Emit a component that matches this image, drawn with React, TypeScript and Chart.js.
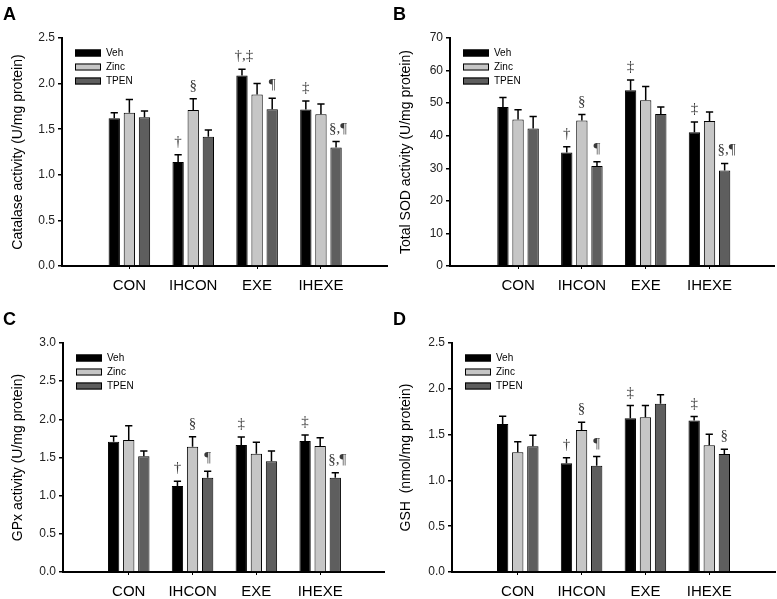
import React, { useEffect, useRef } from 'react';
import { Chart, registerables } from 'chart.js';

Chart.register(...registerables);

const categories = ['CON', 'IHCON', 'EXE', 'IHEXE'];
const seriesNames = ['Veh', 'Zinc', 'TPEN'];
const seriesColors = ['#000000', '#c6c6c6', '#5e5e5e'];

// Panel A: Catalase activity (rows: Veh, Zinc, TPEN)
const catalaseMeans = [
  [1.62, 1.14, 2.09, 1.715],
  [1.68, 1.71, 1.88, 1.664],
  [1.63, 1.416, 1.72, 1.30],
];
const catalaseSems = [
  [0.06, 0.08, 0.067, 0.095],
  [0.145, 0.125, 0.12, 0.113],
  [0.07, 0.074, 0.12, 0.065],
];
const catalaseMarks = [
  ['', '†', '†,‡', '‡'],
  ['', '§', '', ''],
  ['', '', '¶', '§,¶'],
];

// Panel B: Total SOD activity
const sodMeans = [
  [48.85, 34.85, 53.95, 41.1],
  [45.0, 44.7, 50.9, 44.55],
  [42.2, 30.7, 46.7, 29.3],
];
const sodSems = [
  [2.85, 1.75, 3.15, 3.1],
  [3.0, 1.8, 4.2, 2.75],
  [3.7, 1.3, 2.15, 2.2],
];
const sodMarks = [
  ['', '†', '‡', '‡'],
  ['', '§', '', ''],
  ['', '¶', '', '§,¶'],
];

// Panel C: GPx activity
const gpxMeans = [
  [1.707, 1.127, 1.664, 1.716],
  [1.729, 1.642, 1.55, 1.651],
  [1.515, 1.236, 1.45, 1.236],
];
const gpxSems = [
  [0.07, 0.061, 0.105, 0.079],
  [0.188, 0.131, 0.149, 0.109],
  [0.07, 0.083, 0.135, 0.065],
];
const gpxMarks = [
  ['', '†', '‡', '‡'],
  ['', '§', '', ''],
  ['', '¶', '', '§,¶'],
];

// Panel D: GSH
const gshMeans = [
  [1.617, 1.186, 1.679, 1.653],
  [1.307, 1.55, 1.69, 1.383],
  [1.372, 1.16, 1.836, 1.288],
];
const gshSems = [
  [0.083, 0.062, 0.138, 0.044],
  [0.116, 0.085, 0.127, 0.121],
  [0.121, 0.10, 0.098, 0.051],
];
const gshMarks = [
  ['', '†', '‡', '‡'],
  ['', '§', '', ''],
  ['', '¶', '', '§'],
];

const SANS = 'Arial, "Liberation Sans", Helvetica, sans-serif';
const SERIF = '"Liberation Serif", "Times New Roman", serif';

type PanelSpec = {
  letter: string;
  title: string;
  yMax: number;
  yStep: number;
  decimals: number;
  means: number[][];
  sems: number[][];
  marks: string[][];
  left: number;
  top: number;
  width: number;
  height: number;
  xMin: number;
  xMax: number;
  area: { left: number; top: number; right: number; bottom: number };
  letterPos: { x: number; y: number };
};

const panels: PanelSpec[] = [
  {
    letter: 'A', title: 'Catalase activity (U/mg protein)', yMax: 2.5, yStep: 0.5, decimals: 1,
    means: catalaseMeans, sems: catalaseSems, marks: catalaseMarks,
    left: 0, top: 0, width: 388, height: 300, xMin: -0.055, xMax: 5.05,
    area: { left: 62, top: 38, right: 388, bottom: 266 }, letterPos: { x: 3, y: 20 },
  },
  {
    letter: 'B', title: 'Total SOD activity (U/mg protein)', yMax: 70, yStep: 10, decimals: 0,
    means: sodMeans, sems: sodSems, marks: sodMarks,
    left: 388, top: 0, width: 389, height: 300, xMin: -0.066, xMax: 5.01,
    area: { left: 62, top: 38, right: 386, bottom: 266 }, letterPos: { x: 5, y: 20 },
  },
  {
    letter: 'C', title: 'GPx activity (U/mg protein)', yMax: 3.0, yStep: 0.5, decimals: 1,
    means: gpxMeans, sems: gpxSems, marks: gpxMarks,
    left: 0, top: 300, width: 388, height: 299, xMin: -0.03, xMax: 5.0,
    area: { left: 63, top: 43, right: 384, bottom: 272 }, letterPos: { x: 3, y: 25 },
  },
  {
    letter: 'D', title: 'GSH  (nmol/mg protein)', yMax: 2.5, yStep: 0.5, decimals: 1,
    means: gshMeans, sems: gshSems, marks: gshMarks,
    left: 388, top: 300, width: 389, height: 299, xMin: -0.03, xMax: 5.03,
    area: { left: 64, top: 43, right: 387, bottom: 272 }, letterPos: { x: 5, y: 25 },
  },
];

function Panel({ spec }: { spec: PanelSpec }) {
  const ref = useRef<HTMLCanvasElement | null>(null);

  useEffect(() => {
    const canvas = ref.current;
    if (!canvas) return;
    const { area } = spec;
    const xHeight = 32;

    const overlay = {
      id: 'overlay' + spec.letter,
      afterDatasetsDraw(chart: any) {
        const ctx = chart.ctx as CanvasRenderingContext2D;
        const yScale = chart.scales.y;
        const ca = chart.chartArea;
        ctx.save();
        // error bars + significance marks
        chart.data.datasets.forEach((_ds: any, i: number) => {
          const meta = chart.getDatasetMeta(i);
          meta.data.forEach((el: any, j: number) => {
            const mean = spec.means[i][j];
            const sem = spec.sems[i][j];
            const yBar = yScale.getPixelForValue(mean);
            const yTop = yScale.getPixelForValue(mean + sem);
            const cap = el.width * 0.32;
            ctx.strokeStyle = '#000';
            ctx.lineWidth = 1.5;
            ctx.beginPath();
            ctx.moveTo(el.x, yBar);
            ctx.lineTo(el.x, yTop);
            ctx.moveTo(el.x - cap, yTop);
            ctx.lineTo(el.x + cap, yTop);
            ctx.stroke();
            const mark = spec.marks[i][j];
            if (mark) {
              ctx.font = '15px ' + SERIF;
              ctx.fillStyle = '#3a3a3a';
              ctx.textAlign = 'center';
              ctx.textBaseline = 'alphabetic';
              ctx.fillText(mark, el.x + (mark.length > 1 ? 2 : 0), yTop - 9);
            }
          });
        });
        // legend
        const bx = ca.left + 13;
        seriesNames.forEach((name, i) => {
          const cy = ca.top + 15 + i * 14;
          ctx.fillStyle = seriesColors[i];
          ctx.fillRect(bx, cy - 3.5, 26, 7);
          ctx.strokeStyle = '#000';
          ctx.lineWidth = 1;
          ctx.strokeRect(bx + 0.5, cy - 3.5 + 0.5, 25, 6);
          ctx.fillStyle = '#000';
          ctx.font = '10px ' + SANS;
          ctx.textAlign = 'left';
          ctx.textBaseline = 'middle';
          ctx.fillText(name, bx + 31, cy);
        });
        // panel letter
        ctx.fillStyle = '#000';
        ctx.font = 'bold 18px ' + SANS;
        ctx.textAlign = 'left';
        ctx.textBaseline = 'alphabetic';
        ctx.fillText(spec.letter, spec.letterPos.x, spec.letterPos.y);
        ctx.restore();
      },
    };

    const chart = new Chart(canvas, {
      type: 'bar',
      data: {
        datasets: seriesNames.map((name, i) => ({
          label: name,
          data: spec.means[i].map((v, j) => ({ x: j + 1, y: v })),
          backgroundColor: seriesColors[i],
          borderColor: '#000',
          borderWidth: 1,
          borderSkipped: 'bottom',
          categoryPercentage: 0.71,
          barPercentage: 0.75,
        })),
      },
      options: {
        responsive: false,
        animation: false,
        events: [],
        layout: {
          padding: {
            left: 0,
            top: area.top,
            right: spec.width - area.right,
            bottom: spec.height - area.bottom - xHeight,
          },
        },
        plugins: {
          legend: { display: false },
          tooltip: { enabled: false },
        },
        scales: {
          x: {
            type: 'linear',
            min: spec.xMin,
            max: spec.xMax,
            offset: false,
            afterBuildTicks: (scale: any) => {
              scale.ticks = categories.map((_c, i) => ({ value: i + 1 }));
            },
            afterFit: (scale: any) => {
              scale.height = xHeight;
            },
            ticks: {
              autoSkip: false,
              maxRotation: 0,
              padding: 8,
              color: '#000',
              font: { family: SANS, size: 15 },
              callback: (v: any) => categories[Math.round(Number(v)) - 1] ?? '',
            },
            grid: {
              display: true,
              offset: false,
              drawOnChartArea: false,
              drawTicks: true,
              tickLength: 3,
              color: '#000',
              lineWidth: 1,
            },
            border: { display: true, color: '#000', width: 2 },
          },
          y: {
            min: 0,
            max: spec.yMax,
            afterFit: (scale: any) => {
              scale.width = area.left;
            },
            ticks: {
              stepSize: spec.yStep,
              padding: 3,
              color: '#222',
              font: { family: SANS, size: 12 },
              callback: (v: any) => Number(v).toFixed(spec.decimals),
            },
            grid: {
              display: true,
              drawOnChartArea: false,
              drawTicks: true,
              tickLength: 4,
              color: '#000',
              lineWidth: 1.5,
            },
            border: { display: true, color: '#000', width: 2 },
            title: {
              display: true,
              text: spec.title,
              color: '#000',
              font: { family: SANS, size: 14 },
              padding: { top: 10, bottom: 0 },
            },
          },
        },
      },
      plugins: [overlay],
    } as any);

    return () => chart.destroy();
  }, [spec]);

  return (
    <canvas
      ref={ref}
      width={spec.width}
      height={spec.height}
      style={{
        position: 'absolute',
        left: spec.left,
        top: spec.top,
        width: spec.width,
        height: spec.height,
      }}
    />
  );
}

export default function App() {
  return (
    <div
      style={{
        position: 'fixed',
        left: 0,
        top: 0,
        width: 777,
        height: 599,
        background: '#fff',
        overflow: 'hidden',
      }}
    >
      {panels.map((p) => (
        <Panel key={p.letter} spec={p} />
      ))}
    </div>
  );
}
